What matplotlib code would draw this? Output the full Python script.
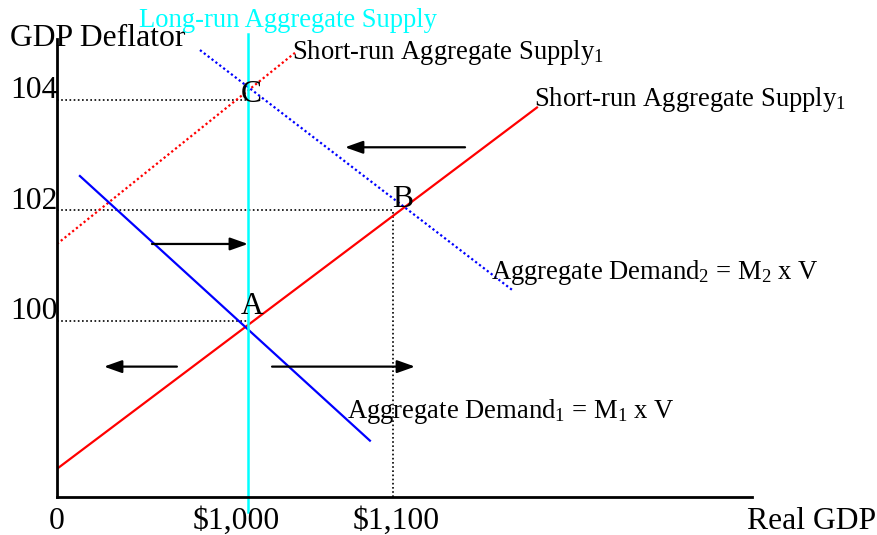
import matplotlib
matplotlib.use("Agg")
import matplotlib.pyplot as plt

plt.rcParams['font.family'] = ['Liberation Serif', 'DejaVu Serif']
plt.rcParams['mathtext.fontset'] = 'custom'
plt.rcParams['mathtext.rm'] = 'Liberation Serif'
plt.rcParams['mathtext.default'] = 'regular'

# axis range (real GDP in $, deflator)
x_min, x_max = 868.3, 1347.6
y_min, y_max = 96.81, 105.10

# curve endpoints (x = real GDP, y = GDP deflator)
sras1_x = [868.3, 1199.3]
sras1_y = [97.32, 103.86]
sras2_x = [868.3, 1032.4]
sras2_y = [101.39, 104.85]
ad1_x = [884.1, 1084.1]
ad1_y = [102.62, 97.83]
ad2_x = [966.9, 1182.1]
ad2_y = [104.90, 100.56]
lras_x = 1000
lras_y = [96.54, 105.19]

# equilibrium points
points = ['A', 'B', 'C']
point_x = [1000, 1100, 1000]
point_y = [100, 102, 104]

gdp_ticks = [868.3, 1000, 1100]
gdp_labels = ['0', '\\$1,000', '\\$1,100']
gdp_label_shift = [0, -8, 2]
deflator_ticks = [104, 102, 100]

# arrows (tail -> tip)
arrow_tail_x = [1149.7, 933.8, 951.0, 1016.6]
arrow_tip_x = [1066.9, 1000.0, 900.7, 1115.2]
arrow_y = [103.14, 101.39, 99.17, 99.17]

fig = plt.figure(figsize=(8.77, 5.35), dpi=100)
ax = fig.add_axes([57 / 877, 38 / 535, 695 / 877, 458 / 535])
ax.set_xlim(x_min, x_max)
ax.set_ylim(y_min, y_max)
for s in ['top', 'right']:
    ax.spines[s].set_visible(False)
for s in ['left', 'bottom']:
    ax.spines[s].set_linewidth(2)
ax.set_xticks([])
ax.set_yticks([])

# guide lines
for i in range(3):
    ax.plot([x_min, point_x[i]], [point_y[i], point_y[i]], color='black',
            lw=1.2, ls=(0, (1, 1.5)))
ax.plot([1100, 1100], [y_min, 102], color='black', lw=1.2, ls=(0, (1, 1.5)))

# curves
ax.plot(sras1_x, sras1_y, color='red', lw=1.6)
ax.plot(sras2_x, sras2_y, color='red', lw=1.6, ls=(0, (1, 1.2)))
ax.plot(ad1_x, ad1_y, color='blue', lw=1.6)
ax.plot(ad2_x, ad2_y, color='blue', lw=1.6, ls=(0, (1, 1.2)))
ax.plot([lras_x, lras_x], lras_y, color='#00FFFF', lw=1.8, clip_on=False)

for i in range(4):
    ax.annotate('', xy=(arrow_tip_x[i], arrow_y[i]),
                xytext=(arrow_tail_x[i], arrow_y[i]),
                arrowprops=dict(arrowstyle='-|>,head_length=0.45,head_width=0.16',
                                color='black', lw=1.6, mutation_scale=24,
                                shrinkA=0, shrinkB=0))

big = 22.8
small = 19.2

# point letters
ax.text(1002, 104.1, 'C', fontsize=big, ha='center', va='center')
ax.text(1107, 102.2, 'B', fontsize=big, ha='center', va='center')
ax.text(1003, 100.25, 'A', fontsize=big, ha='center', va='center')

# axis labels
ax.text(-47 / 695, 1.0, 'GDP Deflator', transform=ax.transAxes, fontsize=big,
        ha='left', va='center', clip_on=False)
for v in deflator_ticks:
    ax.text(-47 / 695, v + 0.16, str(v), transform=ax.get_yaxis_transform(),
            fontsize=big, ha='left', va='center', clip_on=False)
for t, lab, sh in zip(gdp_ticks, gdp_labels, gdp_label_shift):
    ax.text(t + sh, -32 / 458, lab,
            transform=ax.get_xaxis_transform(), fontsize=big,
            ha='center', va='baseline', clip_on=False)
ax.text(1.0 - 5 / 695, -32 / 458, 'Real GDP', transform=ax.transAxes,
        fontsize=big, ha='left', va='baseline', clip_on=False)

# curve labels
ax.text(925, 105.81 - 21 / 55.25, 'Long-run Aggregate Supply', color='#00FFFF',
        fontsize=small, ha='left', va='center', clip_on=False)
ax.text(1030.3, 104.85, 'Short-run Aggregate Supply$_1$', fontsize=small,
        ha='left', va='center')
ax.text(1197.2, 104.0, 'Short-run Aggregate Supply$_1$', fontsize=small,
        ha='left', va='center')
ax.text(1167.6, 100.88, 'Aggregate Demand$_2$ = M$_2$ x V', fontsize=small,
        ha='left', va='center')
ax.text(1068.3, 98.35, 'Aggregate Demand$_1$ = M$_1$ x V', fontsize=small,
        ha='left', va='center')

fig.savefig('out.png', dpi=100)
